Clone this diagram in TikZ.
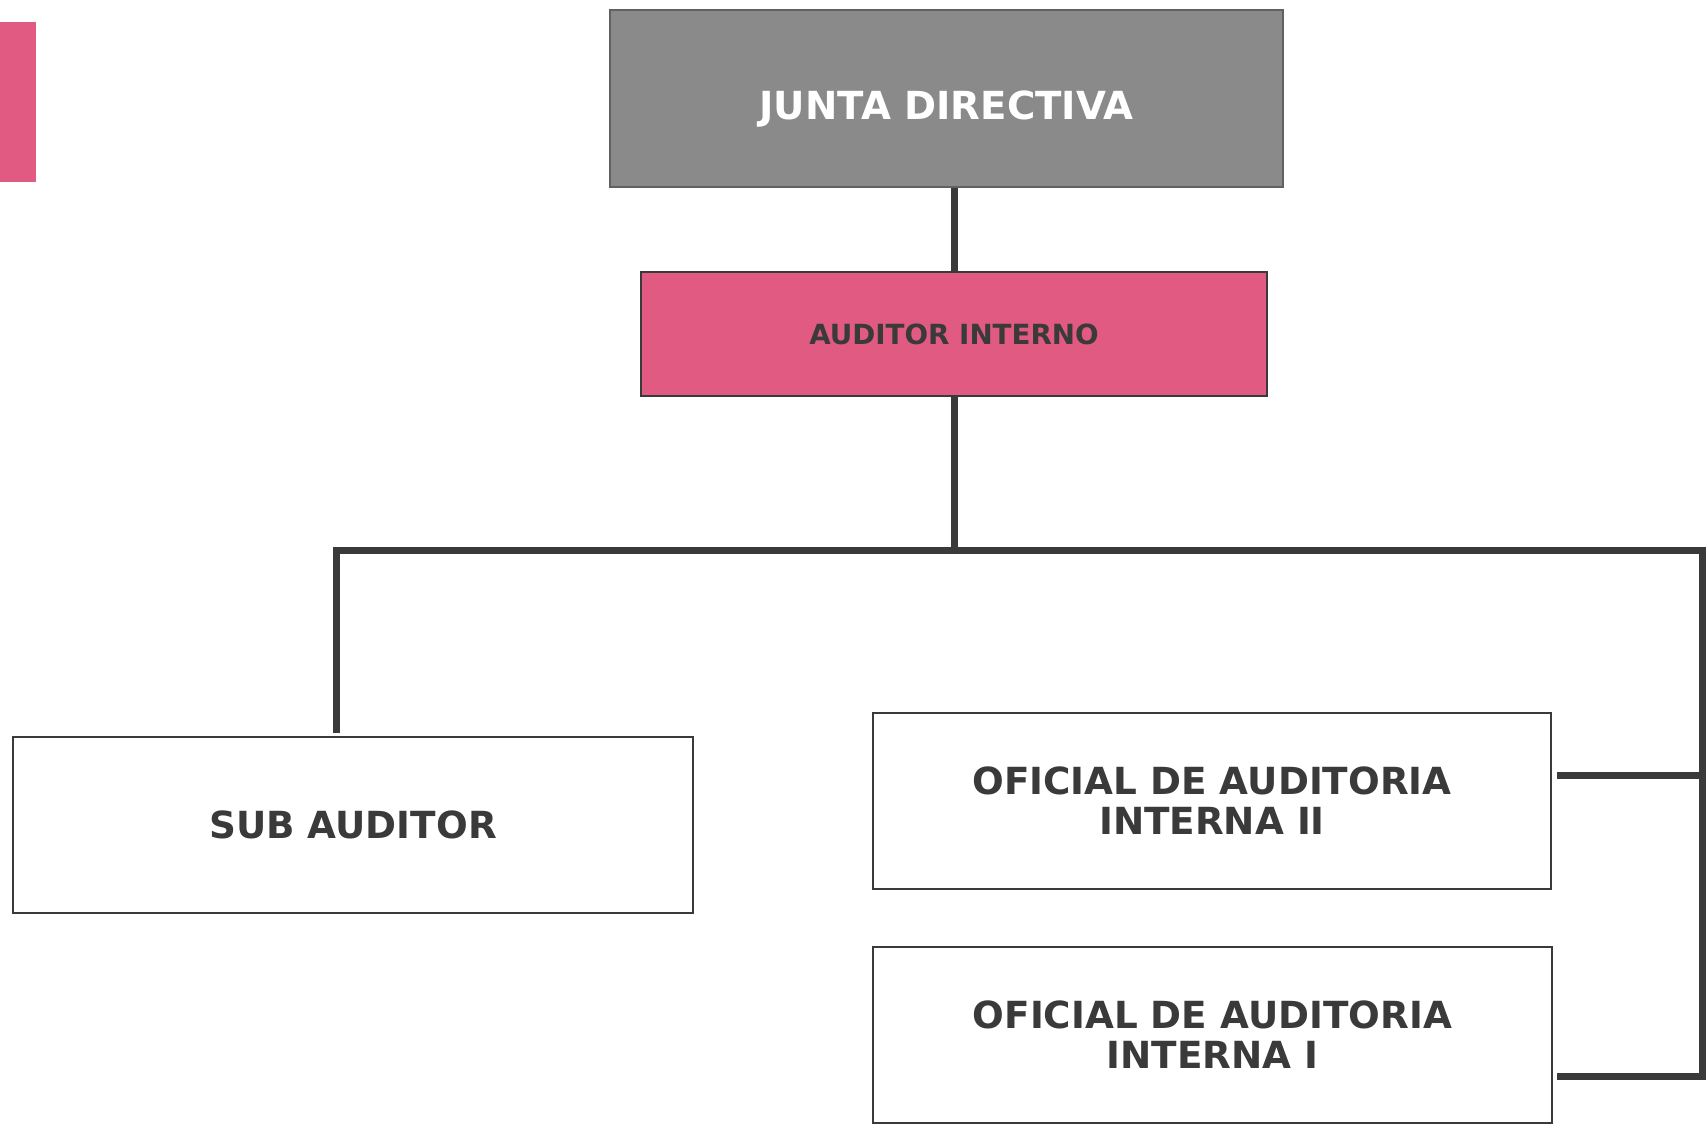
\documentclass[tikz,border=0pt]{standalone}
\usepackage{fontspec}
\setmainfont{DejaVu Sans}
\definecolor{grisjunta}{RGB}{138,138,138}
\definecolor{rosa}{RGB}{224,90,130}
\definecolor{tinta}{RGB}{58,58,58}

\begin{document}
\begin{tikzpicture}[x=0.75pt,y=0.75pt,yscale=-1,xscale=1,
		caja/.style={draw=tinta,line width=1.3pt,fill=white,text=tinta,align=center,inner sep=0pt,font=\fontsize{28}{30}\selectfont\bfseries},
		linea/.style={draw=tinta,line width=5.25pt}]
		\useasboundingbox (0,0) rectangle (1707,1125);
		\fill [rosa] (0,22) rectangle (36,182);
		\node (junta) [caja,fill=grisjunta,draw=grisjunta!70!black,text=white,minimum width=673*0.75pt,minimum height=177*0.75pt,font=\fontsize{29}{31}\selectfont\bfseries,text height=32pt,text depth=0pt] at (946.5,98.5) {JUNTA DIRECTIVA};
		\node (auditor) [caja,fill=rosa,minimum width=626*0.75pt,minimum height=124*0.75pt,font=\fontsize{20.8}{22}\selectfont\bfseries] at (954,334) {AUDITOR INTERNO};
		\node (sub) [caja,minimum width=680*0.75pt,minimum height=176*0.75pt] at (353,825) {SUB AUDITOR};
		\node (ofdos) [caja,minimum width=678*0.75pt,minimum height=176*0.75pt] at (1212,801) {OFICIAL DE AUDITORIA\\INTERNA II};
		\node (ofuno) [caja,minimum width=679*0.75pt,minimum height=176*0.75pt] at (1212.5,1035) {OFICIAL DE AUDITORIA\\INTERNA I};
		\coordinate (bus) at (954,550);
		\coordinate (busizq) at (336,550);
		\coordinate (busder) at (1702,550);
		\coordinate (subtop) at (336,733);
		\coordinate (dosder) at (1557,775);
		\coordinate (unoder) at (1557,1076);
		\draw [linea] (auditor.north) -- (auditor.north |- junta.south);
		\draw [linea] (auditor.south) -- (bus);
		\draw [linea] (subtop) -- (busizq) -- (busder) -- (busder |- unoder) -- (unoder);
		\draw [linea] (dosder) -- (dosder -| busder);
		\end{tikzpicture}
\end{document}
